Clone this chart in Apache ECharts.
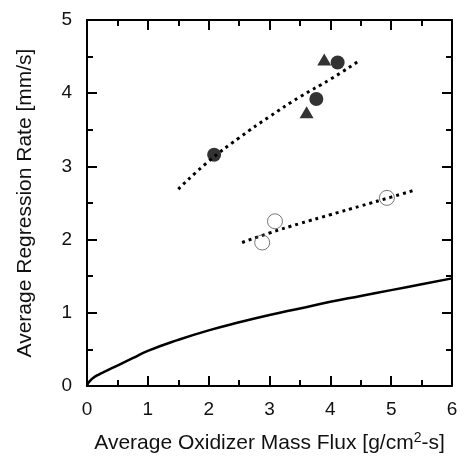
<!DOCTYPE html>
<html>
<head>
<meta charset="utf-8">
<script src="https://cdn.jsdelivr.net/npm/echarts@6/dist/echarts.min.js"></script>
<style>html,body{margin:0;padding:0;background:#fff}#c{width:465px;height:456px}</style>
</head>
<body>
<div id="c"></div>
<script>
// Solid model curve
const curveX = [0, 0.02, 0.05, 0.1, 0.2, 0.3, 0.5, 0.75, 1, 1.5, 2, 2.5, 3, 3.5, 4, 4.5, 5, 5.5, 6];
const curveY = [0, 0.04, 0.07, 0.11, 0.16, 0.2, 0.28, 0.38, 0.48, 0.63, 0.76, 0.87, 0.97, 1.06, 1.15, 1.23, 1.31, 1.39, 1.47];
// Upper dotted fit
const fit1X = [1.5, 2.0, 2.5, 3.0, 3.5, 4.0, 4.45];
const fit1Y = [2.69, 3.07, 3.39, 3.68, 3.95, 4.19, 4.43];
// Lower dotted fit
const fit2X = [2.55, 3.0, 3.5, 4.0, 4.5, 5.0, 5.4];
const fit2Y = [1.96, 2.09, 2.22, 2.34, 2.46, 2.58, 2.68];
// Filled circles
const filledX = [2.09, 3.77, 4.12];
const filledY = [3.16, 3.92, 4.42];
// Triangles
const triX = [3.61, 3.90];
const triY = [3.74, 4.46];
// Open circles
const openX = [2.88, 3.09, 4.93];
const openY = [1.96, 2.25, 2.57];
// Axis ticks
const xTicks = [0, 1, 2, 3, 4, 5, 6];
const yTicks = [0, 1, 2, 3, 4, 5];

const zip = (a, b) => a.map((v, i) => [v, b[i]]);
const font = 'Liberation Sans, Arial, sans-serif';
const axisLine = () => ({ show: true, onZero: false, lineStyle: { color: '#000', width: 2 } });
const tick = () => ({ show: true, inside: true, length: 10, lineStyle: { color: '#000', width: 2 } });
const minor = () => ({ show: true, splitNumber: 2, length: 6, lineStyle: { color: '#000', width: 2 } });

const chart = echarts.init(document.getElementById('c'));
chart.setOption({
  animation: false,
  grid: { left: 87, right: 13, top: 20, bottom: 70, containLabel: false, outerBoundsMode: 'none' },
  xAxis: [{
    type: 'value', min: xTicks[0], max: xTicks[xTicks.length - 1], interval: 1, position: 'bottom',
    axisLine: axisLine(), axisTick: tick(), minorTick: minor(), splitLine: { show: false },
    axisLabel: { color: '#111', fontSize: 19, fontFamily: font, margin: 14 },
    name: 'Average Oxidizer Mass Flux [g/cm{sup|2}-s]', nameLocation: 'middle', nameGap: 45,
    nameTextStyle: { color: '#111', fontSize: 21, fontFamily: font,
      rich: { sup: { fontSize: 14, fontFamily: font, color: '#111', padding: [0, 0, 10, 0] } } }
  }, {
    type: 'value', min: 0, max: 6, interval: 1, position: 'top',
    axisLine: axisLine(), axisTick: tick(), minorTick: minor(), splitLine: { show: false }, axisLabel: { show: false }
  }],
  yAxis: [{
    type: 'value', min: yTicks[0], max: yTicks[yTicks.length - 1], interval: 1, position: 'left',
    axisLine: axisLine(), axisTick: tick(), minorTick: minor(), splitLine: { show: false },
    axisLabel: { color: '#111', fontSize: 19, fontFamily: font, margin: 15 },
    name: 'Average Regression Rate [mm/s]', nameLocation: 'middle', nameGap: 51,
    nameTextStyle: { color: '#111', fontSize: 21, fontFamily: font }
  }, {
    type: 'value', min: 0, max: 5, interval: 1, position: 'right',
    axisLine: axisLine(), axisTick: tick(), minorTick: minor(), splitLine: { show: false }, axisLabel: { show: false }
  }],
  series: [
    { type: 'line', data: zip(curveX, curveY), smooth: true, showSymbol: false, symbol: 'none',
      lineStyle: { color: '#000', width: 2.5 }, z: 3 },
    { type: 'line', data: zip(fit1X, fit1Y), smooth: true, symbol: 'none',
      lineStyle: { color: '#000', width: 3, type: [3, 4] }, z: 3 },
    { type: 'line', data: zip(fit2X, fit2Y), smooth: true, symbol: 'none',
      lineStyle: { color: '#000', width: 3, type: [3, 4] }, z: 3 },
    { type: 'scatter', data: zip(filledX, filledY), symbol: 'circle', symbolSize: 14,
      itemStyle: { color: '#000' }, z: 4 },
    { type: 'scatter', data: zip(triX, triY), symbol: 'triangle', symbolSize: [14, 12],
      itemStyle: { color: '#000' }, z: 4 },
    { type: 'scatter', data: zip(openX, openY), symbol: 'circle', symbolSize: 15,
      itemStyle: { color: 'rgba(255,255,255,0)', borderColor: '#555', borderWidth: 1 }, z: 4 }
  ]
});
</script>
</body>
</html>
